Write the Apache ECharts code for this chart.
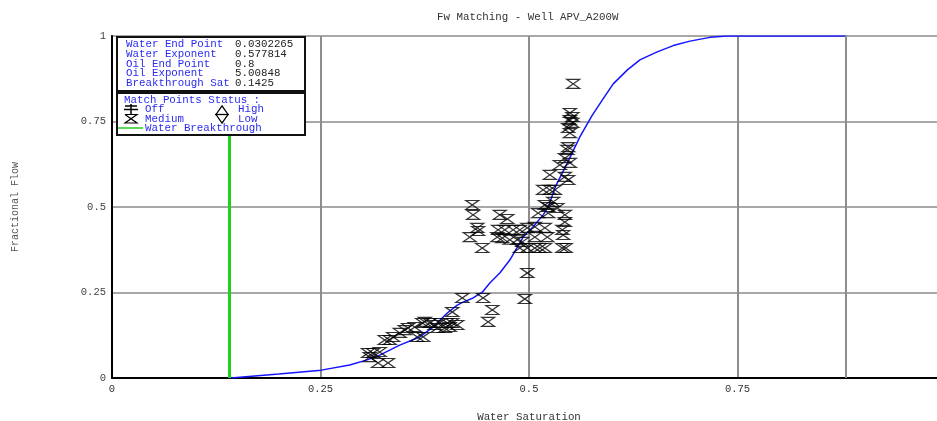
<!DOCTYPE html>
<html>
<head>
<meta charset="utf-8">
<script src="https://cdn.jsdelivr.net/npm/echarts@6/dist/echarts.min.js"></script>
<style>
  html, body { margin: 0; padding: 0; background: #fff; }
  #chart { width: 937px; height: 421px; }
</style>
</head>
<body>
<div id="chart"></div>
<script>
// Fractional flow model curve (water saturation vs fractional flow)
const curveSat = [0.1425, 0.200, 0.251, 0.285, 0.306, 0.321, 0.345, 0.369, 0.385, 0.402, 0.414, 0.421, 0.433, 0.444, 0.453, 0.465, 0.477, 0.486, 0.493, 0.505, 0.517, 0.523, 0.532, 0.546, 0.561, 0.575, 0.588, 0.601, 0.618, 0.633, 0.653, 0.673, 0.693, 0.717, 0.737, 0.88];
const curveFw  = [0.000, 0.012, 0.023, 0.038, 0.053, 0.067, 0.096, 0.120, 0.149, 0.190, 0.213, 0.222, 0.234, 0.251, 0.278, 0.307, 0.345, 0.383, 0.412, 0.442, 0.477, 0.500, 0.561, 0.629, 0.705, 0.765, 0.813, 0.860, 0.901, 0.930, 0.953, 0.972, 0.985, 0.996, 1.000, 1.000];

// Match points (status: Medium)
const matchSat = [0.307, 0.313, 0.321, 0.309, 0.319, 0.331, 0.327, 0.333, 0.337, 0.345, 0.351, 0.355, 0.363, 0.372, 0.375, 0.381, 0.387, 0.393, 0.402, 0.408, 0.414, 0.366, 0.373, 0.390, 0.399, 0.405,
  0.420, 0.408, 0.445, 0.456, 0.451, 0.495, 0.498,
  0.432, 0.433, 0.438, 0.439, 0.429, 0.444, 0.465, 0.474, 0.463, 0.471, 0.481, 0.489, 0.498, 0.462, 0.468, 0.477, 0.486, 0.492, 0.489, 0.498, 0.507, 0.513, 0.519, 0.540, 0.544,
  0.507, 0.522, 0.541, 0.507, 0.519, 0.540, 0.511, 0.523, 0.543, 0.543, 0.519, 0.523, 0.534, 0.529, 0.517, 0.525, 0.531, 0.525, 0.543, 0.547, 0.537, 0.549, 0.543, 0.546, 0.547,
  0.549, 0.547, 0.552, 0.549, 0.552, 0.549, 0.553];
const matchFw = [0.073, 0.073, 0.076, 0.061, 0.044, 0.044, 0.111, 0.111, 0.120, 0.132, 0.140, 0.146, 0.149, 0.161, 0.164, 0.161, 0.155, 0.161, 0.161, 0.161, 0.155, 0.120, 0.120, 0.146, 0.146, 0.149,
  0.234, 0.193, 0.234, 0.199, 0.164, 0.231, 0.307,
  0.506, 0.477, 0.439, 0.430, 0.412, 0.380, 0.477, 0.465, 0.433, 0.433, 0.433, 0.433, 0.439, 0.412, 0.409, 0.404, 0.404, 0.398, 0.380, 0.380, 0.380, 0.380, 0.380, 0.380, 0.380,
  0.412, 0.412, 0.418, 0.442, 0.439, 0.433, 0.482, 0.482, 0.477, 0.456, 0.506, 0.500, 0.497, 0.515, 0.550, 0.550, 0.550, 0.594, 0.588, 0.579, 0.623, 0.629, 0.643, 0.667, 0.675,
  0.716, 0.731, 0.746, 0.754, 0.763, 0.775, 0.860];

// Model parameters shown in the info box
const paramNames  = ['Water End Point', 'Water Exponent', 'Oil End Point', 'Oil Exponent', 'Breakthrough Sat'];
const paramValues = ['0.0302265', '0.577814', '0.8', '5.00848', '0.1425'];
const breakthroughSat = 0.1425;
const maxWaterSat = 0.88;

const xTicks = [0, 0.25, 0.5, 0.75];
const yTicks = [0, 0.25, 0.5, 0.75, 1];

const chart = echarts.init(document.getElementById('chart'));
const mono = 'Liberation Mono, Courier New, monospace';
const blue = '#2b2bf0';
const hourglass = 'path://M0,0L10,0L0,10L10,10Z';

const graphics = [];
// parameter box
graphics.push({ type: 'rect', left: 116, top: 36, shape: { width: 188, height: 54 },
  style: { fill: '#fff', stroke: '#111', lineWidth: 2 }, z: 100 });
paramNames.forEach((n, i) => {
  graphics.push({ type: 'text', left: 126, top: 39 + i * 9.6, z: 101,
    style: { text: n, font: '10.8px ' + mono, fill: blue } });
  graphics.push({ type: 'text', left: 235, top: 39 + i * 9.6, z: 101,
    style: { text: paramValues[i], font: '10.8px ' + mono, fill: '#222' } });
});
// status box
graphics.push({ type: 'rect', left: 116, top: 92, shape: { width: 188, height: 42 },
  style: { fill: '#fff', stroke: '#111', lineWidth: 2 }, z: 100 });
graphics.push({ type: 'text', left: 124, top: 95, z: 101,
  style: { text: 'Match Points Status :', font: '10.8px ' + mono, fill: blue } });
graphics.push({ type: 'text', left: 145, top: 104, z: 101,
  style: { text: 'Off', font: '10.8px ' + mono, fill: blue } });
graphics.push({ type: 'text', left: 145, top: 113.5, z: 101,
  style: { text: 'Medium', font: '10.8px ' + mono, fill: blue } });
graphics.push({ type: 'text', left: 238, top: 104, z: 101,
  style: { text: 'High', font: '10.8px ' + mono, fill: blue } });
graphics.push({ type: 'text', left: 238, top: 113.5, z: 101,
  style: { text: 'Low', font: '10.8px ' + mono, fill: blue } });
graphics.push({ type: 'text', left: 145, top: 123, z: 101,
  style: { text: 'Water Breakthrough', font: '10.8px ' + mono, fill: blue } });
// status glyphs
graphics.push({ type: 'polyline', z: 101, shape: { points: [[125, 106], [137, 106]] }, style: { stroke: '#000', lineWidth: 1.5 } });
graphics.push({ type: 'polyline', z: 101, shape: { points: [[124, 109.5], [138, 109.5]] }, style: { stroke: '#000', lineWidth: 1.5 } });
graphics.push({ type: 'polyline', z: 101, shape: { points: [[131, 104], [131, 114]] }, style: { stroke: '#000', lineWidth: 1.5 } });
graphics.push({ type: 'polyline', z: 101, shape: { points: [[125, 114.5], [137, 114.5], [125, 123], [137, 123], [125, 114.5]] }, style: { stroke: '#000', lineWidth: 1.2, fill: null } });
graphics.push({ type: 'polyline', z: 101, shape: { points: [[216, 114.5], [222, 106], [228, 114.5], [222, 123], [216, 114.5]] }, style: { stroke: '#000', lineWidth: 1.3, fill: null } });
graphics.push({ type: 'polyline', z: 101, shape: { points: [[215, 114.5], [229, 114.5]] }, style: { stroke: '#000', lineWidth: 1.3 } });
graphics.push({ type: 'polyline', z: 101, shape: { points: [[118, 128], [143, 128]] }, style: { stroke: '#22cc22', lineWidth: 1.5 } });

chart.setOption({
  animation: false,
  backgroundColor: '#fff',
  title: {
    text: 'Fw Matching - Well APV_A200W',
    left: 432, top: 7,
    textStyle: { fontFamily: mono, fontSize: 10.8, fontWeight: 'normal', color: '#333' }
  },
  grid: { left: 112, width: 834, top: 36, height: 342, outerBoundsMode: 'none', containLabel: false,
    show: true, borderColor: '#444', borderWidth: 1.5, backgroundColor: '#fff' },
  xAxis: {
    type: 'value', min: 0, max: 1, interval: 0.25,
    name: 'Water Saturation', nameLocation: 'middle', nameGap: 34,
    nameTextStyle: { fontFamily: mono, fontSize: 10.8, color: '#333' },
    axisLine: { show: true, onZero: false, lineStyle: { color: '#000', width: 2 } },
    axisTick: { show: false },
    axisLabel: { fontFamily: mono, fontSize: 10.5, color: '#333', margin: 6,
      formatter: v => xTicks.includes(v) ? String(v) : '' },
    splitLine: { show: true, lineStyle: { color: '#8c8c8c', width: 2 } }
  },
  yAxis: {
    type: 'value', min: 0, max: 1, interval: 0.25,
    name: 'Fractional Flow', nameLocation: 'middle', nameGap: 92, nameRotate: 90,
    nameTextStyle: { fontFamily: mono, fontSize: 10, color: '#555' },
    axisLine: { show: true, onZero: false, lineStyle: { color: '#000', width: 2 } },
    axisTick: { show: false },
    axisLabel: { fontFamily: mono, fontSize: 10.5, color: '#444', margin: 6,
      formatter: v => yTicks.includes(v) ? String(v) : '' },
    splitLine: { show: true, lineStyle: { color: '#a8a8a8', width: 2 } }
  },
  series: [
    {
      type: 'line',
      data: curveSat.map((s, i) => [s, curveFw[i]]),
      showSymbol: false,
      lineStyle: { color: '#1414ff', width: 1.5 },
      z: 3,
      markLine: {
        silent: true, symbol: 'none', label: { show: false },
        data: [
          { xAxis: breakthroughSat, lineStyle: { color: '#1fd01f', width: 3, type: 'solid' } },
          { xAxis: maxWaterSat, lineStyle: { color: '#8c8c8c', width: 2, type: 'solid' } }
        ]
      }
    },
    {
      type: 'scatter',
      data: matchSat.map((s, i) => [s, matchFw[i]]),
      symbol: hourglass,
      symbolSize: [13, 9],
      itemStyle: { color: 'rgba(0,0,0,0)', borderColor: '#000', borderWidth: 1.3 },
      z: 4
    }
  ],
  graphic: graphics
});
</script>
</body>
</html>
